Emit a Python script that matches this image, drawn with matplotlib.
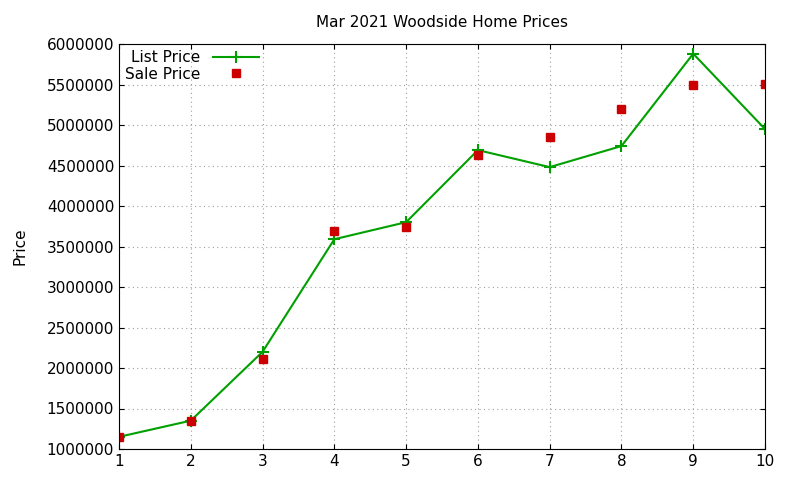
import matplotlib
matplotlib.use("Agg")
import matplotlib.pyplot as plt

x = [1, 2, 3, 4, 5, 6, 7, 8, 9, 10]
list_price = [1150000, 1350000, 2200000, 3590000, 3800000, 4690000, 4480000, 4740000, 5880000, 4950000]
sale_price = [1150000, 1350000, 2110000, 3690000, 3740000, 4630000, 4850000, 5200000, 5500000, 5510000]

fig = plt.figure(figsize=(8, 4.8), dpi=100)
ax = fig.add_axes([119/800, 1-449/480, (765-119)/800, (449-44)/480])
ax.plot(x, list_price, color="#00a000", lw=1.5, marker="+", ms=8, mew=1.5, label="List Price")
ax.plot(x, sale_price, ls="none", marker="s", color="#cc0000", ms=6, label="Sale Price")
ax.set_xlim(1, 10)
ax.set_ylim(1000000, 6000000)
ax.set_xticks(x)
ax.set_yticks(range(1000000, 6000001, 500000))
ax.ticklabel_format(style="plain", axis="y")
ax.grid(True, color="#a0a0a0", ls=(0, (1, 3)), lw=0.8)
ax.tick_params(direction="in", labelsize=11, top=True, right=True)
ax.set_ylabel("Price", fontsize=11, labelpad=14)
ax.set_title("Mar 2021 Woodside Home Prices", fontsize=11, pad=12)
leg = ax.legend(loc="upper left", frameon=False, fontsize=11, markerfirst=False,
                handlelength=3, borderaxespad=0.0, bbox_to_anchor=(0.0, 1.0), handletextpad=0.8,
                labelspacing=0.1)
for t in leg.get_texts():
    t.set_ha("right")
fig.savefig("out.png")
